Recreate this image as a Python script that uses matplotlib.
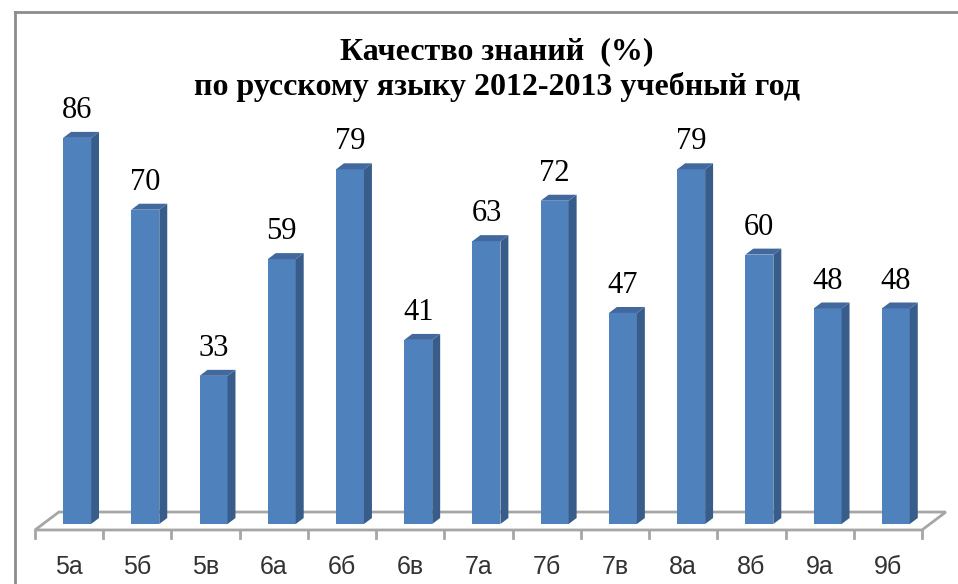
import numpy as np
import matplotlib
matplotlib.use("Agg")
import matplotlib.pyplot as plt
from matplotlib.patches import Polygon

# данные
classes = ['5а', '5б', '5в', '6а', '6б', '6в', '7а', '7б', '7в', '8а', '8б', '9а', '9б']
quality = [86, 70, 33, 59, 79, 41, 63, 72, 47, 79, 60, 48, 48]

title = 'Качество знаний  (%)\nпо русскому языку 2012-2013 учебный год'

# "3D" параметры (в единицах данных)
depth_dx = 0.35     # сдвиг глубины по x
depth_dy = 4.0      # сдвиг глубины по y
bar_w = 0.41
d0, d1 = 1 / 3, 2 / 3   # положение столбца в глубине пола

front_col = '#4F81BD'
side_col = '#385D8A'
top_col = '#41699E'
floor_col = '#A6A6A6'


def main():
    fig = plt.figure(figsize=(9.58, 5.84), dpi=100)
    ax = fig.add_axes([0, 0, 1, 1])
    ax.set_xlim(-1.013, 13.028)
    ax.set_ylim(-12.03, 118.04)
    ax.axis('off')

    n = len(classes)
    x = np.arange(n)

    # пол
    x0, x1 = -0.5, n - 0.5
    floor = Polygon([(x0, 0), (x1, 0), (x1 + depth_dx, depth_dy), (x0 + depth_dx, depth_dy)],
                    closed=True, facecolor='white', edgecolor=floor_col, lw=2, zorder=1)
    ax.add_patch(floor)
    for t in np.arange(n + 1) - 0.5:
        ax.plot([t, t], [0, -1.7], color=floor_col, lw=2, zorder=1)

    # столбцы
    for xi, v in zip(x, quality):
        left = xi - bar_w / 2 + d0 * depth_dx
        right = left + bar_w
        base = d0 * depth_dy
        top = v + base
        ddx = (d1 - d0) * depth_dx
        ddy = (d1 - d0) * depth_dy
        ax.add_patch(Polygon([(left, base), (right, base), (right, top), (left, top)],
                             closed=True, facecolor=front_col, edgecolor='none', zorder=3))
        ax.add_patch(Polygon([(right, base), (right + ddx, base + ddy), (right + ddx, top + ddy), (right, top)],
                             closed=True, facecolor=side_col, edgecolor='none', zorder=3))
        ax.add_patch(Polygon([(left, top), (right, top), (right + ddx, top + ddy), (left + ddx, top + ddy)],
                             closed=True, facecolor=top_col, edgecolor='none', zorder=3))
        ax.text((left + right) / 2, top + ddy + 3.1, str(v), ha='center', va='baseline',
                fontsize=22, family='Liberation Serif', color='black', zorder=4)

    # подписи классов
    for xi, c in zip(x, classes):
        ax.text(xi, -9.8, c, ha='center', va='baseline', fontsize=18,
                family='Liberation Sans', color='#333333')

    # рамка слайда
    fig.add_artist(plt.Line2D([15 / 958, 15 / 958], [0, 1 - 11.5 / 584], color='#8C8C8C', lw=2))
    fig.add_artist(plt.Line2D([15 / 958, 1], [1 - 11.5 / 584, 1 - 11.5 / 584], color='#8C8C8C', lw=2))

    fig.text(497 / 958, 1 - 70 / 584, title, ha='center', va='center', fontsize=23,
             family='Liberation Serif', fontweight='bold', linespacing=1.25)

    fig.savefig('out.png', dpi=100)


if __name__ == "__main__":
    main()
